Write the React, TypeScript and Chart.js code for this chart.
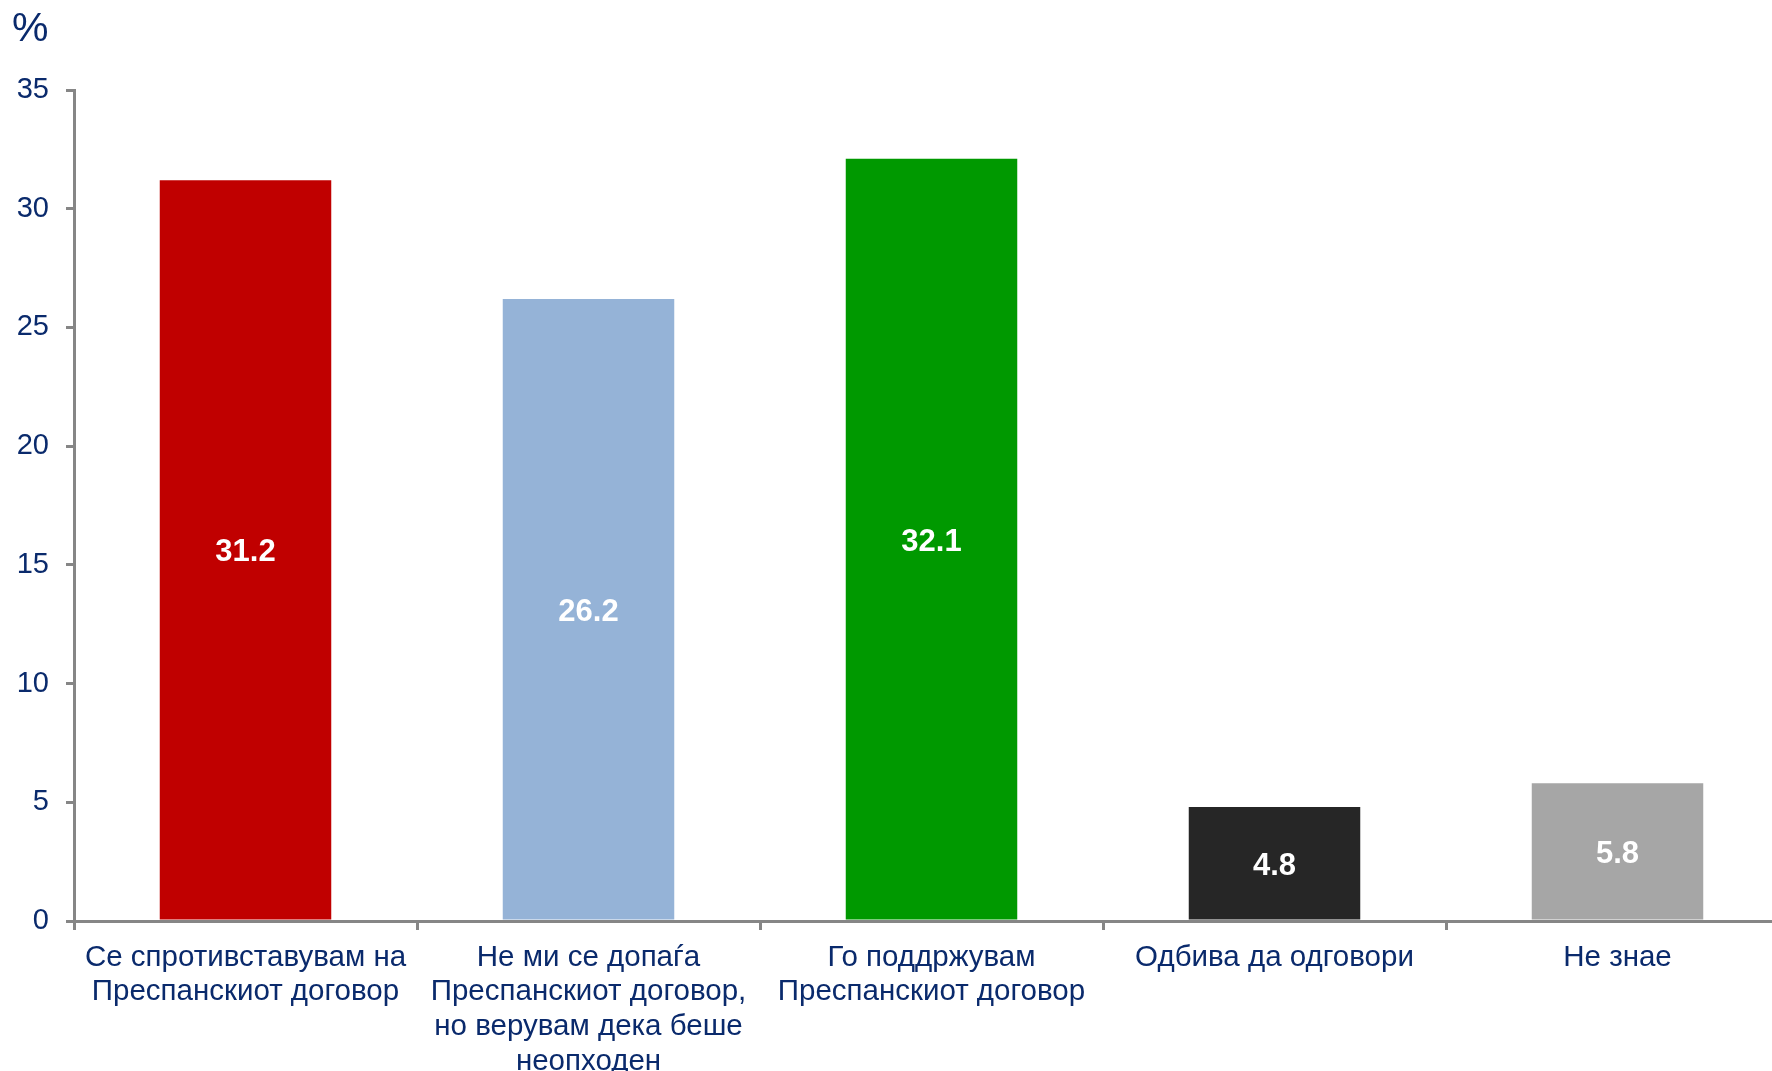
import React, { useEffect, useRef } from "react";
import { Chart, registerables } from "chart.js";

Chart.register(...registerables);

const categories: string[][] = [
  ["Се спротивставувам на", "Преспанскиот договор"],
  ["Не ми се допаѓа", "Преспанскиот договор,", "но верувам дека беше", "неопходен"],
  ["Го поддржувам", "Преспанскиот договор"],
  ["Одбива да одговори"],
  ["Не знае"],
];
const values: number[] = [31.2, 26.2, 32.1, 4.8, 5.8];
const barColors: string[] = ["#C00000", "#95B3D7", "#009900", "#262626", "#A6A6A6"];
const yTicks = { min: 0, max: 35, step: 5 };
const unitLabel = "%";

const TEXT = "#0a2a6c";
const AXIS = "#868686";
const FONT = "'Liberation Sans', Arial, sans-serif";

export default function App() {
  const ref = useRef<HTMLCanvasElement | null>(null);

  useEffect(() => {
    if (!ref.current) return;
    const labelPlugin = {
      id: "barLabels",
      afterDatasetsDraw(chart: any) {
        const ctx = chart.ctx;
        const meta = chart.getDatasetMeta(0);
        ctx.save();
        ctx.font = `bold 31px ${FONT}`;
        ctx.fillStyle = "#ffffff";
        ctx.textAlign = "center";
        ctx.textBaseline = "middle";
        meta.data.forEach((bar: any, i: number) => {
          const y = (bar.y + bar.base) / 2 + 3;
          ctx.fillText(values[i].toFixed(1), bar.x, y);
        });
        ctx.restore();
      },
    };
    const unitPlugin = {
      id: "unitLabel",
      afterDraw(chart: any) {
        const ctx = chart.ctx;
        ctx.save();
        ctx.font = `41px ${FONT}`;
        ctx.fillStyle = TEXT;
        ctx.textAlign = "left";
        ctx.textBaseline = "middle";
        ctx.fillText(unitLabel, 12, 30);
        ctx.restore();
      },
    };

    const chart = new Chart(ref.current, {
      type: "bar",
      data: {
        labels: categories,
        datasets: [
          {
            data: values,
            backgroundColor: barColors,
            borderWidth: 0,
            barPercentage: 0.5,
            categoryPercentage: 1,
          },
        ],
      },
      options: {
        responsive: false,
        animation: false,
        devicePixelRatio: 1,
        layout: { padding: { top: 90, right: 11, bottom: 0, left: 0 } },
        plugins: {
          legend: { display: false },
          tooltip: { enabled: false },
          title: { display: false },
        },
        scales: {
          x: {
            grid: {
              display: true,
              drawOnChartArea: false,
              drawTicks: true,
              tickLength: 9,
              color: AXIS,
              lineWidth: 3,
              offset: true,
            },
            border: { display: true, color: AXIS, width: 3 },
            ticks: {
              color: TEXT,
              font: { family: FONT, size: 29.5, lineHeight: 1.18 },
              padding: 10,
              maxRotation: 0,
              autoSkip: false,
            },
            afterFit: (s: any) => {
              s.height = 150;
            },
          },
          y: {
            min: yTicks.min,
            max: yTicks.max,
            grid: {
              display: true,
              drawOnChartArea: false,
              drawTicks: true,
              tickLength: 8,
              color: AXIS,
              lineWidth: 3,
            },
            border: { display: true, color: AXIS, width: 3 },
            ticks: {
              stepSize: yTicks.step,
              color: TEXT,
              font: { family: FONT, size: 29 },
              padding: 17,
            },
            afterFit: (s: any) => {
              s.width = 74;
            },
          },
        },
      },
      plugins: [labelPlugin, unitPlugin],
    });
    return () => chart.destroy();
  }, []);

  return (
    <div
      style={{
        position: "fixed",
        left: 0,
        top: 0,
        width: 1772,
        height: 1071,
        overflow: "hidden",
        background: "#ffffff",
      }}
    >
      <canvas ref={ref} width={1800} height={1071} style={{ width: 1800, height: 1071, display: "block" }} />
    </div>
  );
}
